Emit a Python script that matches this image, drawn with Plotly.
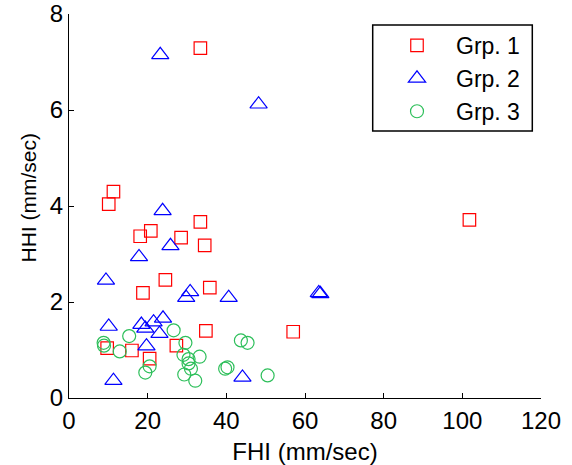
import plotly.graph_objects as go

# Group 1 (red squares)
g1_x = [33.4, 11.3, 10.1, 33.4, 20.8, 18.1, 28.5, 34.5, 24.5, 18.8, 35.8, 34.8, 57.0, 27.3, 9.7, 16.0, 20.5, 101.8]
g1_y = [7.29, 4.30, 4.04, 3.67, 3.48, 3.37, 3.34, 3.18, 2.46, 2.19, 2.30, 1.40, 1.38, 1.09, 1.04, 0.99, 0.82, 3.71]

# Group 2 (blue triangles)
g2_x = [23.2, 48.2, 23.8, 25.8, 17.8, 9.4, 30.8, 29.8, 40.6, 10.1, 18.4, 19.4, 21.5, 23.9, 23.0, 19.7, 11.3, 44.1, 63.5, 63.9]
g2_y = [7.15, 6.12, 3.90, 3.17, 2.94, 2.45, 2.21, 2.09, 2.09, 1.49, 1.53, 1.45, 1.58, 1.66, 1.34, 1.08, 0.36, 0.43, 2.19, 2.17]

# Group 3 (green circles)
g3_x = [8.8, 8.9, 12.9, 15.3, 26.6, 29.6, 29.1, 30.4, 33.2, 30.4, 31.0, 29.3, 32.1, 20.5, 19.4, 39.7, 40.3, 43.7, 45.4, 50.5]
g3_y = [1.15, 1.09, 0.97, 1.29, 1.41, 1.15, 0.90, 0.81, 0.86, 0.72, 0.61, 0.49, 0.36, 0.66, 0.53, 0.61, 0.64, 1.20, 1.15, 0.47]

names = ["Grp. 1", "Grp. 2", "Grp. 3"]
x_ticks = [0, 20, 40, 60, 80, 100, 120]
y_ticks = [0, 2, 4, 6, 8]

FONT = "Liberation Sans, Arial, sans-serif"

fig = go.Figure()
fig.add_trace(go.Scatter(x=g1_x, y=g1_y, mode="markers", name=names[0],
                         marker=dict(symbol="square-open", size=12.5, color="#ff0000", line=dict(width=1.2))))
fig.add_trace(go.Scatter(x=g2_x, y=g2_y, mode="markers", name=names[1],
                         marker=dict(symbol="triangle-up-open", size=15, color="#0000ff", line=dict(width=1.2))))
fig.add_trace(go.Scatter(x=g3_x, y=g3_y, mode="markers", name=names[2],
                         marker=dict(symbol="circle-open", size=13, color="#2dbf5a", line=dict(width=1.2))))

L, R, T, B = 69, 31, 14, 67
W, H = 572, 465
pw, ph = W - L - R, H - T - B

def px2x(px):
    return (px - L) / pw

def py2y(py):
    return (H - B - py) / ph

fig.update_layout(
    width=W, height=H,
    margin=dict(l=L, r=R, t=T, b=B, autoexpand=False),
    paper_bgcolor="white", plot_bgcolor="white",
    font=dict(family=FONT, size=24, color="black"),
    showlegend=True,
    legend=dict(x=px2x(378), y=py2y(24), xanchor="left", yanchor="top",
                bgcolor="rgba(0,0,0,0)", borderwidth=0, font=dict(size=23),
                itemwidth=68),
    xaxis=dict(range=[0, 120], tickvals=x_ticks, ticks="inside", ticklen=5, tickcolor="black",
               showline=True, linecolor="black", linewidth=1, showgrid=False, zeroline=False,
               mirror=False, automargin=False, ticklabelstandoff=1,
               title=dict(text="FHI (mm/sec)", standoff=10, font=dict(size=24))),
    yaxis=dict(range=[0, 8], tickvals=y_ticks, ticks="inside", ticklen=5, tickcolor="black",
               showline=True, linecolor="black", linewidth=1, showgrid=False, zeroline=False,
               mirror=False, automargin=False, title=dict(text="")),
    annotations=[dict(text="HHI (mm/sec)", textangle=-90, xref="paper", yref="paper",
                      x=px2x(27.5), y=py2y(198), xanchor="center", yanchor="middle",
                      showarrow=False, font=dict(size=21))],
    shapes=[dict(type="rect", xref="paper", yref="paper",
                 x0=px2x(372.7), x1=px2x(532.3), y0=py2y(131), y1=py2y(25),
                 line=dict(color="black", width=1.5), fillcolor="rgba(0,0,0,0)")],
)

fig.write_html("out.html")
